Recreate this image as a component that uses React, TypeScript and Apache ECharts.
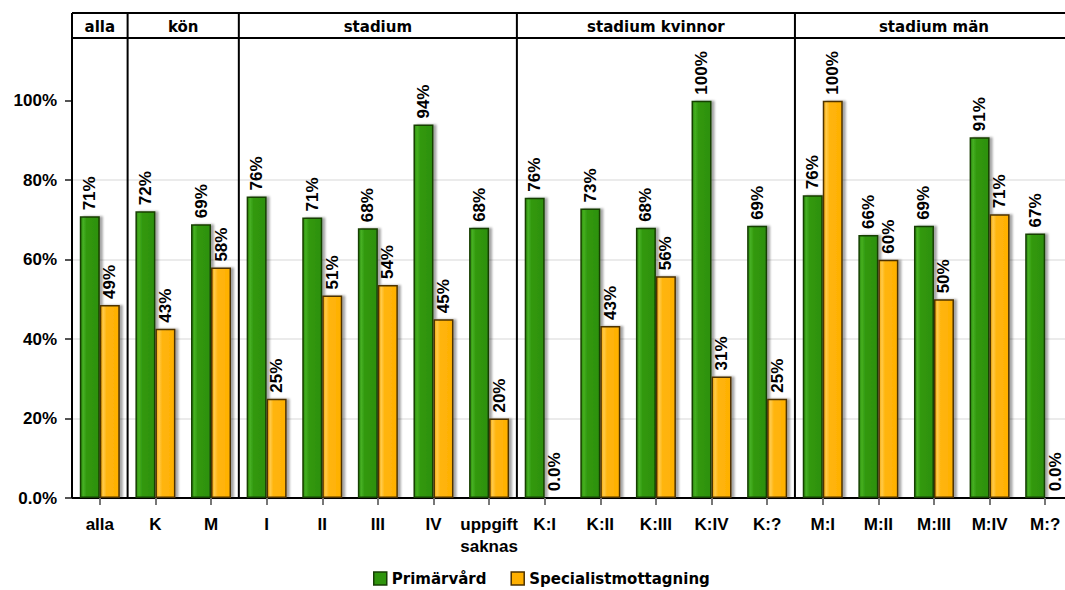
import React, { useEffect, useRef } from 'react';
import * as echarts from 'echarts';

const categories = ['alla', 'K', 'M', 'I', 'II', 'III', 'IV', 'uppgift\nsaknas', 'K:I', 'K:II', 'K:III', 'K:IV', 'K:?', 'M:I', 'M:II', 'M:III', 'M:IV', 'M:?'];
const primarvard = [70.9, 72.2, 68.9, 75.9, 70.6, 67.9, 94, 68, 75.6, 72.9, 68, 100, 68.5, 76.2, 66.2, 68.5, 90.8, 66.6];
const specialist = [48.6, 42.6, 58, 25, 51, 53.6, 45, 20, 0, 43.3, 55.8, 30.6, 25, 100, 60, 50, 71.4, 0];
const groupNames = ['alla', 'kön', 'stadium', 'stadium kvinnor', 'stadium män'];
const groupSizes = [1, 2, 5, 5, 5];
const yTicks = [0, 20, 40, 60, 80, 100];
const seriesNames = ['Primärvård', 'Specialistmottagning'];

const NUM_FONT = '"Liberation Sans", Arial, sans-serif';
const TXT_FONT = '"DejaVu Sans", Verdana, sans-serif';

const greenFill = new echarts.graphic.LinearGradient(0, 0, 1, 0, [
  { offset: 0, color: '#2a8a0a' },
  { offset: 0.15, color: '#46b022' },
  { offset: 0.32, color: '#32990f' },
  { offset: 1, color: '#2d900c' },
]);
const orangeFill = new echarts.graphic.LinearGradient(0, 0, 1, 0, [
  { offset: 0, color: '#f2a300' },
  { offset: 0.15, color: '#ffca4a' },
  { offset: 0.32, color: '#ffb50f' },
  { offset: 1, color: '#ffb000' },
]);

const fmtPct = (v: number) => (v === 0 ? '0.0%' : Math.round(v) + '%');

export default function App() {
  const ref = useRef<HTMLDivElement>(null);
  useEffect(() => {
    if (!ref.current) return;
    const chart = echarts.init(ref.current, null, { renderer: 'svg' });
    const barLabel = {
      show: true,
      position: 'top' as const,
      rotate: 90,
      align: 'left',
      verticalAlign: 'middle',
      distance: 6,
      color: '#000',
      fontFamily: NUM_FONT,
      fontWeight: 'bold',
      fontSize: 17,
      formatter: (p: any) => fmtPct(p.value),
    };
    const option: any = {
      animation: false,
      backgroundColor: '#fff',
      grid: { left: 72, right: 7, top: 61, bottom: 92, containLabel: false },
      legend: {
        left: 368,
        top: 566,
        itemWidth: 13,
        itemHeight: 13,
        itemGap: 24,
        icon: 'rect',
        textStyle: { fontFamily: TXT_FONT, fontWeight: 'bold', fontSize: 15, color: '#000' },
        data: [
          { name: seriesNames[0], itemStyle: { color: '#2f950d', borderColor: '#173f05', borderWidth: 1.5 } },
          { name: seriesNames[1], itemStyle: { color: '#ffb000', borderColor: '#4d3200', borderWidth: 1.5 } },
        ],
      },
      xAxis: {
        type: 'category',
        data: categories,
        axisLine: { show: true, lineStyle: { color: '#000', width: 2 } },
        axisTick: { show: true, alignWithLabel: true, length: 7, lineStyle: { color: '#777', width: 2 } },
        axisLabel: {
          interval: 0,
          margin: 15,
          color: '#000',
          fontFamily: NUM_FONT,
          fontWeight: 'bold',
          fontSize: 17,
          lineHeight: 22,
        },
        splitLine: { show: false },
      },
      yAxis: {
        type: 'value',
        min: 0,
        max: 110,
        interval: 10,
        axisLine: { show: true, lineStyle: { color: '#000', width: 2 } },
        axisTick: { show: true, length: 7, customValues: yTicks, lineStyle: { color: '#555', width: 2 } },
        axisLabel: {
          margin: 15,
          customValues: yTicks,
          color: '#000',
          fontFamily: NUM_FONT,
          fontWeight: 'bold',
          fontSize: 17,
          formatter: (v: number) => (yTicks.indexOf(v) >= 0 ? (v === 0 ? '0.0%' : v + '%') : ''),
        },
        splitLine: { show: true, showMaxLine: false, lineStyle: { color: '#e4e4e4', width: 1.5 } },
      },
      series: [
        {
          name: seriesNames[0],
          type: 'bar',
          data: primarvard,
          barWidth: 20,
          barGap: '0%',
          itemStyle: {
            color: greenFill,
            borderColor: '#173f05',
            borderWidth: 1.5,
            shadowColor: 'rgba(0,0,0,0.35)',
            shadowOffsetX: 3,
            shadowOffsetY: 0,
            shadowBlur: 2,
          },
          label: barLabel,
        },
        {
          name: seriesNames[1],
          type: 'bar',
          data: specialist,
          barWidth: 20,
          barGap: '0%',
          itemStyle: {
            color: orangeFill,
            borderColor: '#4d3200',
            borderWidth: 1.5,
            shadowColor: 'rgba(0,0,0,0.35)',
            shadowOffsetX: 3,
            shadowOffsetY: 0,
            shadowBlur: 2,
          },
          label: barLabel,
        },
      ],
    };
    chart.setOption(option);

    // Panel header and separators, positioned through the category axis
    const px = (i: number) => chart.convertToPixel({ xAxisIndex: 0 }, i) as number;
    const band = px(1) - px(0);
    const left = px(0) - band / 2;
    const right = px(categories.length - 1) + band / 2;
    const yBottom = chart.convertToPixel({ yAxisIndex: 0 }, 0) as number;
    const headTop = 13;
    const headBottom = 38;
    const elements: any[] = [];
    const line = (x1: number, y1: number, x2: number, y2: number) => ({
      type: 'line',
      shape: { x1, y1, x2, y2 },
      style: { stroke: '#000', lineWidth: 2 },
      z: 100,
    });
    elements.push(line(left, headTop, right, headTop));
    elements.push(line(left, headBottom, right, headBottom));
    let start = 0;
    const edges: number[] = [left];
    groupSizes.forEach((n) => {
      const end = start + n;
      const xe = end < categories.length ? (px(end - 1) + px(end)) / 2 : right;
      edges.push(xe);
      start = end;
    });
    edges.forEach((x) => elements.push(line(x, headTop, x, yBottom)));
    groupNames.forEach((g, i) => {
      elements.push({
        type: 'text',
        x: (edges[i] + edges[i + 1]) / 2,
        y: (headTop + headBottom) / 2 + 1,
        z: 100,
        style: {
          text: g,
          fill: '#000',
          font: `bold 15px ${TXT_FONT}`,
          textAlign: 'center',
          textVerticalAlign: 'middle',
        },
      });
    });
    chart.setOption({ graphic: { elements } });

    return () => chart.dispose();
  }, []);

  return (
    <div style={{ position: 'fixed', left: 0, top: 0, width: 1065, height: 590, overflow: 'hidden', background: '#fff' }}>
      <div ref={ref} style={{ width: 1080, height: 590 }} />
    </div>
  );
}
